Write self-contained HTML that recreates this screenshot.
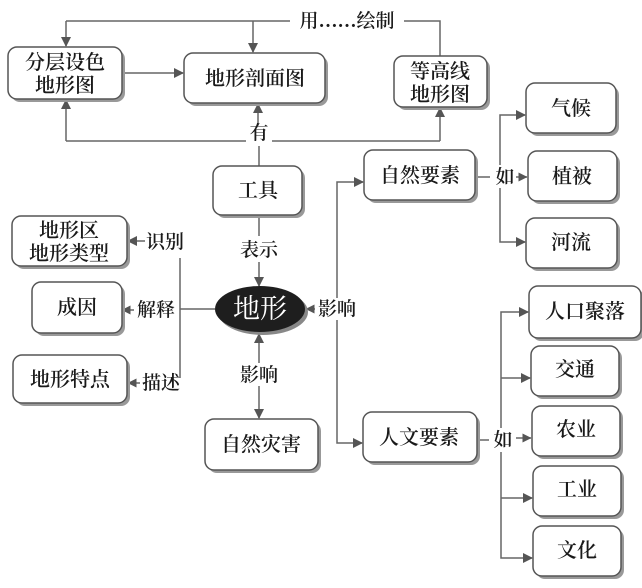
<!DOCTYPE html>
<html><head><meta charset="utf-8"><style>
html,body{margin:0;padding:0;background:#fff;}
svg{display:block;}
text{font-family:"Liberation Serif","Noto Serif CJK SC","Noto Sans CJK SC",serif;fill:#1a1a1a;}
.b{fill:#fff;stroke:#555;stroke-width:1.5;}
.s{fill:#999;}
.l{stroke:#666;stroke-width:1.5;fill:none;}
.t{font-size:20px;text-anchor:middle;font-weight:600;}
.lab{font-size:19px;text-anchor:middle;font-weight:600;}
</style></head><body>
<svg width="642" height="588" viewBox="0 0 642 588" xmlns="http://www.w3.org/2000/svg">
<defs>
<marker id="a" markerWidth="10" markerHeight="10" refX="9" refY="5" orient="auto" markerUnits="userSpaceOnUse">
<path d="M0,0 L10,5 L0,10 Z" fill="#555"/></marker>
<marker id="as" markerWidth="9" markerHeight="9" refX="8.5" refY="4.5" orient="auto" markerUnits="userSpaceOnUse">
<path d="M0,0 L9,4.5 L0,9 Z" fill="#555"/></marker>
</defs>

<path class="l" d="M66,21 H290 M404,21 H440 V56"/>
<path class="l" d="M66,21 V46" marker-end="url(#a)"/>
<path class="l" d="M253,21 V52" marker-end="url(#a)"/>
<path class="l" d="M122,73 H183" marker-end="url(#a)"/>
<path class="l" d="M66,141 H246 M272,141 H440"/>
<path class="l" d="M66,141 V100" marker-end="url(#a)"/>
<path class="l" d="M258,124 V104" marker-end="url(#a)"/>
<path class="l" d="M440,141 V108" marker-end="url(#a)"/>
<path class="l" d="M259,146 V166"/>
<path class="l" d="M259,216 V236"/>
<path class="l" d="M259,262 V286" marker-end="url(#a)"/>
<path class="l" d="M180,258 V378 M180,309 H215"/>
<path class="l" d="M145,241 H128" marker-end="url(#a)"/>
<path class="l" d="M134,310 H122" marker-end="url(#as)"/>
<path class="l" d="M140,383 H128" marker-end="url(#as)"/>
<path class="l" d="M315,309 H306" marker-end="url(#as)"/>
<path class="l" d="M337,320 V443 H362" marker-end="url(#a)"/>
<path class="l" d="M337,298 V182 H363" marker-end="url(#a)"/>
<path class="l" d="M259,363 V334" marker-end="url(#a)"/>
<path class="l" d="M259,386 V418" marker-end="url(#a)"/>
<path class="l" d="M478,177 H490"/>
<path class="l" d="M500,165 V115 H525" marker-end="url(#a)"/>
<path class="l" d="M500,188 V242 H525" marker-end="url(#a)"/>
<path class="l" d="M516,177 H527" marker-end="url(#as)"/>
<path class="l" d="M477,440 H489"/>
<path class="l" d="M501,428 V312 H528" marker-end="url(#a)"/>
<path class="l" d="M501,378 H530" marker-end="url(#a)"/>
<path class="l" d="M501,452 V558 H532" marker-end="url(#a)"/>
<path class="l" d="M501,498 H532" marker-end="url(#a)"/>
<path class="l" d="M516,438 H531" marker-end="url(#as)"/>

<text class="lab" x="347" y="27">用……绘制</text>
<text class="lab" x="259" y="139">有</text>
<text class="lab" x="259" y="256">表示</text>
<text class="lab" x="165" y="248">识别</text>
<text class="lab" x="156" y="316">解释</text>
<text class="lab" x="161" y="389">描述</text>
<text class="lab" x="337" y="315">影响</text>
<text class="lab" x="259" y="381">影响</text>
<text class="lab" x="505" y="183">如</text>
<text class="lab" x="503" y="446">如</text>

<g>
<rect class="s" x="11" y="50" width="114" height="52" rx="9"/><rect class="b" x="8" y="47" width="114" height="52" rx="9"/>
<text class="t" x="65" y="69">分层设色</text><text class="t" x="65" y="92">地形图</text>
<rect class="s" x="187" y="56" width="141" height="50" rx="9"/><rect class="b" x="184" y="53" width="141" height="50" rx="9"/>
<text class="t" x="255" y="85">地形剖面图</text>
<rect class="s" x="397" y="59" width="93" height="51" rx="9"/><rect class="b" x="394" y="56" width="93" height="51" rx="9"/>
<text class="t" x="440" y="78">等高线</text><text class="t" x="440" y="101">地形图</text>
<rect class="s" x="216" y="169" width="89" height="49" rx="9"/><rect class="b" x="213" y="166" width="89" height="49" rx="9"/>
<text class="t" x="258" y="197">工具</text>
<rect class="s" x="367" y="153" width="111" height="50" rx="9"/><rect class="b" x="364" y="150" width="111" height="50" rx="9"/>
<text class="t" x="420" y="182">自然要素</text>
<rect class="s" x="529" y="86" width="90" height="50" rx="9"/><rect class="b" x="526" y="83" width="90" height="50" rx="9"/>
<text class="t" x="571" y="115">气候</text>
<rect class="s" x="531" y="154" width="89" height="50" rx="9"/><rect class="b" x="528" y="151" width="89" height="50" rx="9"/>
<text class="t" x="572" y="183">植被</text>
<rect class="s" x="529" y="221" width="91" height="50" rx="9"/><rect class="b" x="526" y="218" width="91" height="50" rx="9"/>
<text class="t" x="571" y="249">河流</text>
<rect class="s" x="15" y="219" width="115" height="50" rx="9"/><rect class="b" x="12" y="216" width="115" height="50" rx="9"/>
<text class="t" x="69" y="237">地形区</text><text class="t" x="69" y="260">地形类型</text>
<rect class="s" x="35" y="285" width="90" height="51" rx="9"/><rect class="b" x="32" y="282" width="90" height="51" rx="9"/>
<text class="t" x="77" y="314">成因</text>
<rect class="s" x="16" y="358" width="114" height="48" rx="9"/><rect class="b" x="13" y="355" width="114" height="48" rx="9"/>
<text class="t" x="70" y="386">地形特点</text>
<ellipse cx="263" cy="312" rx="45" ry="23" fill="#888"/>
<ellipse cx="260" cy="309" rx="45" ry="23" fill="#1e1e1e"/>
<text x="260" y="318" style="font-size:27px;text-anchor:middle;fill:#fff;">地形</text>
<rect class="s" x="208" y="422" width="113" height="51" rx="9"/><rect class="b" x="205" y="419" width="113" height="51" rx="9"/>
<text class="t" x="261" y="451">自然灾害</text>
<rect class="s" x="366" y="415" width="114" height="50" rx="9"/><rect class="b" x="363" y="412" width="114" height="50" rx="9"/>
<text class="t" x="419" y="444">人文要素</text>
<rect class="s" x="532" y="289" width="112" height="52" rx="9"/><rect class="b" x="529" y="286" width="112" height="52" rx="9"/>
<text class="t" x="585" y="318">人口聚落</text>
<rect class="s" x="534" y="349" width="88" height="50" rx="9"/><rect class="b" x="531" y="346" width="88" height="50" rx="9"/>
<text class="t" x="575" y="376">交通</text>
<rect class="s" x="535" y="409" width="88" height="50" rx="9"/><rect class="b" x="532" y="406" width="88" height="50" rx="9"/>
<text class="t" x="576" y="436">农业</text>
<rect class="s" x="536" y="469" width="88" height="50" rx="9"/><rect class="b" x="533" y="466" width="88" height="50" rx="9"/>
<text class="t" x="577" y="496">工业</text>
<rect class="s" x="536" y="529" width="88" height="50" rx="9"/><rect class="b" x="533" y="526" width="88" height="50" rx="9"/>
<text class="t" x="577" y="557">文化</text>
</g>
</svg>
</body></html>
